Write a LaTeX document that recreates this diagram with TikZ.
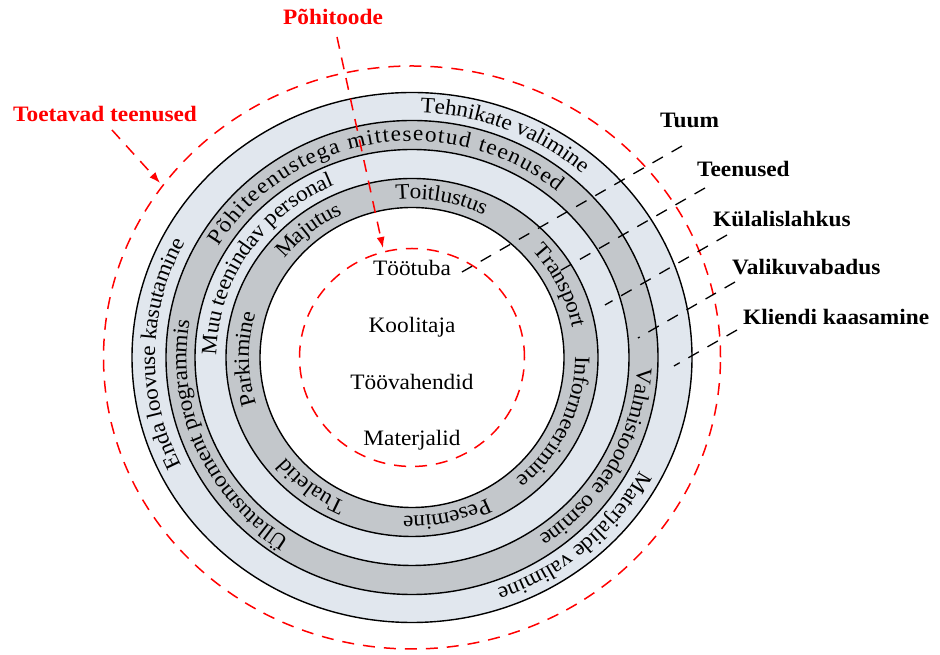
\documentclass[tikz,border=0pt]{standalone}
\usepackage{fontspec}
\setmainfont{Liberation Serif}[FakeStretch=1.06]
\usetikzlibrary{decorations.text,arrows.meta,calc}
\definecolor{ringlight}{RGB}{225,231,238}
\definecolor{ringdark}{RGB}{195,199,203}
\definecolor{markred}{RGB}{255,0,0}
\newcommand\ringfont{\fontsize{22}{26}\selectfont}
\newcommand\ringlbl[4]{%
  \path[decorate,decoration={text along path,text align=center,raise=-6pt,
    text={|\ringfont|#4}}]
    ($(C)+({#1+80}:#2pt and #3pt)$) arc[start angle={#1+80},end angle={#1-80},x radius=#2pt,y radius=#3pt];}
\newcommand\ringfit[5]{%
  \path[decorate,decoration={text along path,text align=fit to path,raise=-6pt,
    text={|\ringfont|#5}}]
    ($(C)+({#1}:#3pt and #4pt)$) arc[start angle={#1},end angle={#2},x radius=#3pt,y radius=#4pt];}
\tikzset{
  ringline/.style={draw=black,line width=1.4pt},
  reddash/.style={draw=markred,line width=1.5pt,dash pattern=on 12pt off 9pt},
  blackdash/.style={draw=black,line width=1.3pt,dash pattern=on 12pt off 10pt},
  coretext/.style={font=\fontsize{22}{26}\selectfont,inner sep=0pt,anchor=base},
  levellabel/.style={font=\fontsize{22}{26}\selectfont\bfseries,inner sep=0pt,anchor=base west},
  redlabel/.style={levellabel,text=markred},
  redarrow/.style={reddash,-{Latex[length=11pt,width=8pt]}},
}
\begin{document}
\begin{tikzpicture}[x=1pt,y=1pt]
\useasboundingbox[fill=white] (0,0) rectangle (940,655);
\coordinate (C) at (412,297.5);
% rings
\path[ringline,fill=ringlight] (C) ellipse [x radius=280pt,y radius=265pt];
\path[ringline,fill=ringdark]  (C) ellipse [x radius=246pt,y radius=237pt];
\path[ringline,fill=ringlight] (C) ellipse [x radius=217pt,y radius=208pt];
\path[ringline,fill=ringdark]  (C) ellipse [x radius=186pt,y radius=179pt];
\path[ringline,fill=white]     (C) ellipse [x radius=152pt,y radius=150pt];
% red dashed ellipses
\path[reddash] (C) ellipse [x radius=308.5pt,y radius=291.5pt];
\path[reddash] (C) ellipse [x radius=112.5pt,y radius=109pt];
% outer band texts
\ringlbl{67.5}{263}{251}{Tehnikate valimine}
\ringlbl{-48}{263}{251}{Materjalide valimine}
\ringlbl{179}{263}{251}{Enda loovuse kasutamine}
% second band
\ringfit{149}{50}{231.5}{222.5}{Põhiteenustega mitteseotud teenused}
\ringlbl{-28.5}{231.5}{222.5}{Valmistoodete osmine}
\ringlbl{203}{231.5}{222.5}{Üllatusmoment programmis}
% third band
\ringlbl{147}{201.5}{193.5}{Muu teenindav personal}
% fourth band
\ringlbl{129}{169}{164.5}{Majutus}
\ringlbl{79.5}{169}{164.5}{Toitlustus}
\ringlbl{26}{169}{164.5}{Transport}
\ringlbl{-24.5}{169}{164.5}{Informeerimine}
\ringlbl{-77.5}{169}{164.5}{Pesemine}
\ringlbl{232}{169}{164.5}{Tualetid}
\ringlbl{180.5}{169}{164.5}{Parkimine}
% core texts
\node[coretext] (tootuba) at (412,379) {Töötuba};
\node[coretext] (koolitaja) at (412,322) {Koolitaja};
\node[coretext] (toovahendid) at (412,265) {Töövahendid};
\node[coretext] (materjalid) at (412,209) {Materjalid};
% level labels
\node[levellabel] (tuum) at (660,527) {Tuum};
\node[levellabel] (teenused) at (697,478) {Teenused};
\node[levellabel] (kylalis) at (713,428) {Külalislahkus};
\node[levellabel] (valiku) at (732,380) {Valikuvabadus};
\node[levellabel] (kliendi) at (743,330) {Kliendi kaasamine};
\node[redlabel] (pohitoode) at (283,630) {Põhitoode};
\node[redlabel] (toetavad) at (13,533) {Toetavad teenused};
% leader line ends
\coordinate (tuumS) at (682,509);   \coordinate (tuumE) at (462,383);
\coordinate (teenS) at (705,467);   \coordinate (teenE) at (556,382);
\coordinate (kylS) at (727,420);    \coordinate (kylE) at (605,350);
\coordinate (valS) at (735,373);    \coordinate (valE) at (638,317);
\coordinate (kliS) at (737,325);    \coordinate (kliE) at (674,289);
\draw[blackdash] (tuumS) -- (tuumE);
\draw[blackdash] (teenS) -- (teenE);
\draw[blackdash] (kylS) -- (kylE);
\draw[blackdash] (valS) -- (valE);
\draw[blackdash] (kliS) -- (kliE);
% red arrows
\coordinate (pohS) at (337,618); \coordinate (pohE) at (383,407);
\coordinate (toeS) at (112,525); \coordinate (toeE) at (160,472);
\draw[redarrow] (pohS) -- (pohE);
\draw[redarrow] (toeS) -- (toeE);
\end{tikzpicture}
\end{document}
